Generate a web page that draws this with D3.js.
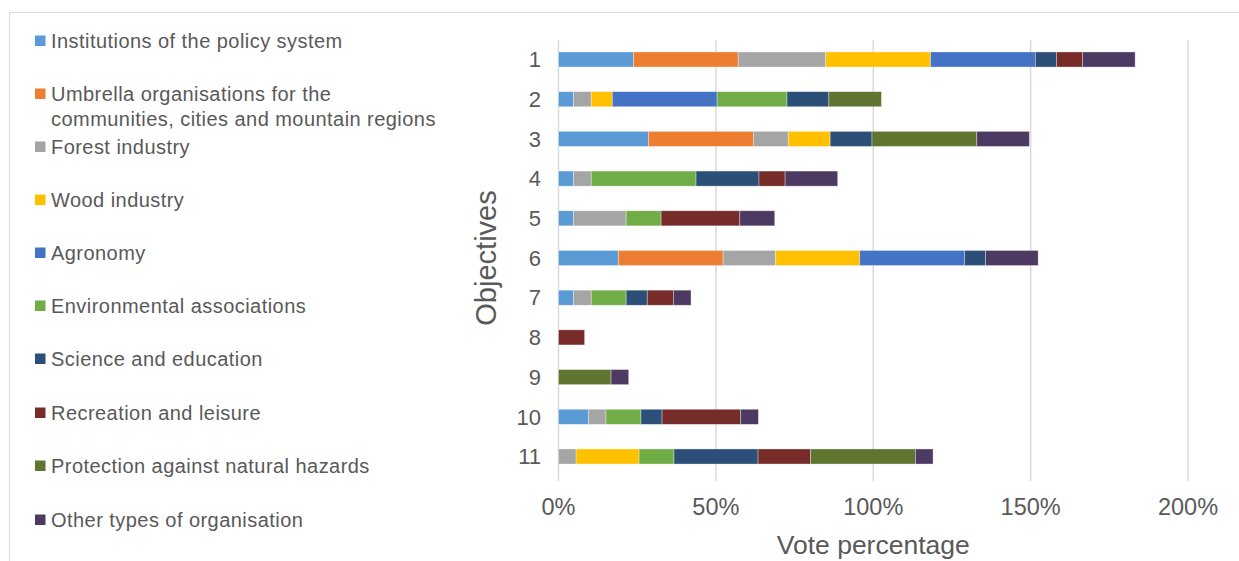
<!DOCTYPE html>
<html>
<head>
<meta charset="utf-8">
<script src="https://cdn.jsdelivr.net/npm/d3@7"></script>
<style>
  html, body { margin: 0; padding: 0; background: #fff; }
  svg { display: block; }
</style>
</head>
<body>
<svg id="chart" width="1239" height="561"></svg>
<script>
// ---- data ----
const objectives = ["1","2","3","4","5","6","7","8","9","10","11"];
const seriesNames = [
  "Institutions of the policy system",
  "Umbrella organisations for the communities, cities and mountain regions",
  "Forest industry",
  "Wood industry",
  "Agronomy",
  "Environmental associations",
  "Science and education",
  "Recreation and leisure",
  "Protection against natural hazards",
  "Other types of organisation"
];
const seriesColors = ["#5B9BD5","#ED7D31","#A5A5A5","#FFC000","#4472C4","#70AD47","#2C4F78","#772C2A","#5F7530","#4D3A62"];
// values in % per objective (rows) for each series (columns, same order as seriesNames)
const institutions  = [23.8, 4.8, 28.6, 4.8, 4.8, 19.0, 4.8, 0, 0, 9.5, 0];
const umbrella      = [33.3, 0, 33.3, 0, 0, 33.3, 0, 0, 0, 0, 0];
const forest        = [27.8, 5.6, 11.1, 5.6, 16.7, 16.7, 5.6, 0, 0, 5.6, 5.6];
const wood          = [33.3, 6.7, 13.3, 0, 0, 26.7, 0, 0, 0, 0, 20.0];
const agronomy      = [33.3, 33.3, 0, 0, 0, 33.3, 0, 0, 0, 0, 0];
const environmental = [0, 22.2, 0, 33.3, 11.1, 0, 11.1, 0, 0, 11.1, 11.1];
const science       = [6.7, 13.3, 13.3, 20.0, 0, 6.7, 6.7, 0, 0, 6.7, 26.7];
const recreation    = [8.3, 0, 0, 8.3, 25.0, 0, 8.3, 8.3, 0, 25.0, 16.7];
const protection    = [0, 16.7, 33.3, 0, 0, 0, 0, 0, 16.7, 0, 33.3];
const other         = [16.7, 0, 16.7, 16.7, 11.1, 16.7, 5.6, 0, 5.6, 5.6, 5.6];
const xTicks = [0, 50, 100, 150, 200];
const xTickLabels = ["0%", "50%", "100%", "150%", "200%"];

const seriesValues = [institutions, umbrella, forest, wood, agronomy, environmental, science, recreation, protection, other];

// ---- layout ----
const svg = d3.select("#chart");
const textColor = "#595959";
const tickFont = "'Liberation Sans Narrow', 'Arial Narrow', 'Liberation Sans', Arial, sans-serif";
const legendFont = "'Liberation Sans', Arial, sans-serif";

// frame
svg.append("path")
  .attr("d", "M9.5,561 V12.5 H1239")
  .attr("fill", "none").attr("stroke", "#D9D9D9").attr("stroke-width", 1);

const plot = { left: 558.5, right: 1188, top: 39.65, bottom: 476.35 };

const x = d3.scaleLinear().domain([0, 200]).range([plot.left, plot.right]);
const y = d3.scaleBand().domain(objectives).range([plot.top, plot.bottom]).paddingInner(0.62).paddingOuter(0.31);

// gridlines
svg.append("g").selectAll("line").data(xTicks).join("line")
  .attr("x1", d => x(d)).attr("x2", d => x(d))
  .attr("y1", 40).attr("y2", 481)
  .attr("stroke", "#D9D9D9").attr("stroke-width", 1.5);

// stacked data
const table = objectives.map((o, i) => {
  const row = { objective: o };
  seriesNames.forEach((s, j) => row[s] = seriesValues[j][i]);
  return row;
});
const stack = d3.stack().keys(seriesNames)(table);

const color = d3.scaleOrdinal().domain(seriesNames).range(seriesColors);

svg.append("g").selectAll("g").data(stack).join("g")
  .attr("fill", d => color(d.key))
  .selectAll("rect").data(d => d.filter(p => p[1] - p[0] > 0)).join("rect")
  .attr("x", d => x(d[0]))
  .attr("width", d => x(d[1]) - x(d[0]))
  .attr("y", d => y(d.data.objective))
  .attr("height", y.bandwidth())
  .attr("stroke", "rgba(255,255,255,0.45)")
  .attr("stroke-width", 0.75);

// y axis labels
svg.append("g").selectAll("text").data(objectives).join("text")
  .attr("x", 541).attr("y", d => y(d) + y.bandwidth() / 2)
  .attr("dy", "0.35em").attr("text-anchor", "end")
  .attr("font-family", legendFont)
  .attr("font-size", 22).attr("fill", textColor)
  .text(d => d);

// x axis labels
svg.append("g").selectAll("text").data(xTicks).join("text")
  .attr("x", d => x(d)).attr("y", 515)
  .attr("text-anchor", "middle")
  .attr("font-family", tickFont)
  .attr("font-size", 23.5).attr("fill", textColor)
  .text((d, i) => xTickLabels[i]);

// axis titles
svg.append("text")
  .attr("x", (plot.left + plot.right) / 2).attr("y", 554)
  .attr("text-anchor", "middle")
  .attr("font-family", tickFont)
  .attr("font-size", 26.5).attr("fill", textColor)
  .text("Vote percentage");

svg.append("text")
  .attr("transform", `translate(496, 258) rotate(-90)`)
  .attr("text-anchor", "middle")
  .attr("font-family", tickFont)
  .attr("font-size", 29).attr("fill", textColor)
  .text("Objectives");

// legend
const legendLines = [
  ["Institutions of the policy system"],
  ["Umbrella organisations for the", "communities, cities and mountain regions"],
  ["Forest industry"],
  ["Wood industry"],
  ["Agronomy"],
  ["Environmental associations"],
  ["Science and education"],
  ["Recreation and leisure"],
  ["Protection against natural hazards"],
  ["Other types of organisation"]
];
const legendY = [41, 94, 147, 200, 253, 306, 359, 413, 466, 520];
const lg = svg.append("g").selectAll("g").data(seriesNames).join("g")
  .attr("transform", (d, i) => `translate(0, ${legendY[i]})`);
lg.append("rect")
  .attr("x", 35).attr("y", -5.5).attr("width", 10.5).attr("height", 10.5)
  .attr("fill", d => color(d));
lg.append("text")
  .attr("x", 51).attr("y", 0)
  .attr("font-family", legendFont)
  .attr("font-size", 20).attr("letter-spacing", 0.45).attr("fill", textColor)
  .selectAll("tspan").data((d, i) => legendLines[i]).join("tspan")
  .attr("x", 51).attr("dy", (d, i) => i === 0 ? "0.35em" : "25px")
  .text(d => d);
</script>
</body>
</html>
